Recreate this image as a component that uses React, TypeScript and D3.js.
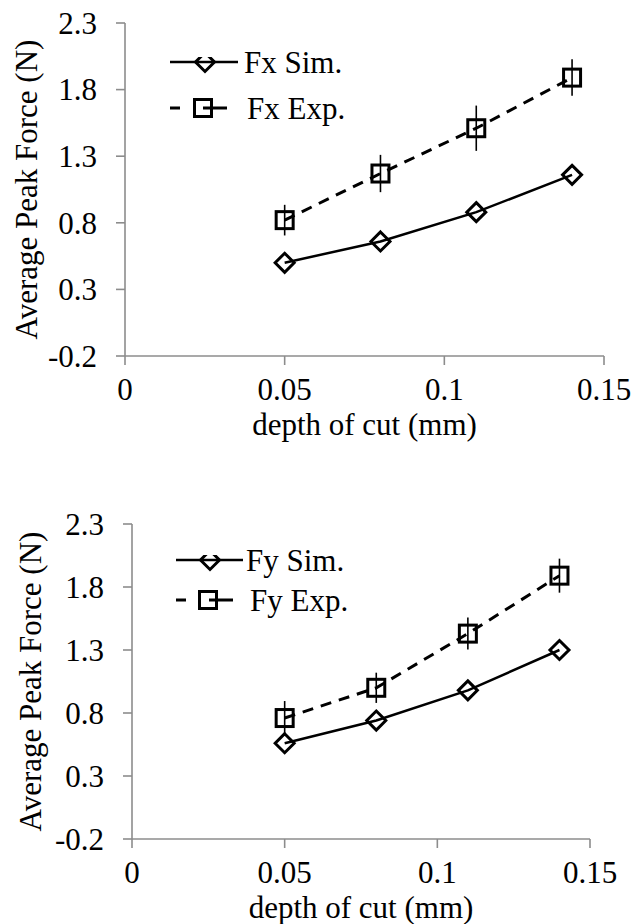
import React from 'react';
import * as d3 from 'd3';

const depths = [0.05, 0.08, 0.11, 0.14];
const fxSim = [0.5, 0.66, 0.88, 1.16];
const fxExp = [0.82, 1.17, 1.51, 1.89];
const fxErr = [0.115, 0.14, 0.17, 0.137];
const fySim = [0.56, 0.74, 0.98, 1.3];
const fyExp = [0.76, 1.0, 1.43, 1.89];
const fyErr = [0.135, 0.12, 0.127, 0.135];
const xTicks = [0, 0.05, 0.1, 0.15];
const xTickLabels = ['0', '0.05', '0.1', '0.15'];
const yTicks = [-0.2, 0.3, 0.8, 1.3, 1.8, 2.3];
const yTickLabels = ['-0.2', '0.3', '0.8', '1.3', '1.8', '2.3'];
const xTitle = 'depth of cut (mm)';
const yTitle = 'Average Peak Force (N)';
const simLabels = ['Fx Sim.', 'Fy Sim.'];
const expLabels = ['Fx Exp.', 'Fy Exp.'];

const FONT = "'Liberation Serif', 'Times New Roman', Times, serif";
const FS = 31;
const AXIS = '#8c8c8c';

type Layout = {
  x0: number; x1: number; yTop: number; yBot: number; yTitleX: number;
  lgX0: number; lgX1: number; lgSym: number; lgSimY: number; lgExpY: number; lgSimTX: number; lgExpTX: number;
};

const layouts: Layout[] = [
  { x0: 125, x1: 604, yTop: 23, yBot: 356, yTitleX: 37, lgX0: 170, lgX1: 238, lgSym: 205, lgSimY: 62, lgExpY: 108, lgSimTX: 244, lgExpTX: 247 },
  { x0: 132, x1: 590, yTop: 524, yBot: 839, yTitleX: 41, lgX0: 176, lgX1: 243, lgSym: 210, lgSimY: 560, lgExpY: 600, lgSimTX: 246, lgExpTX: 250 },
];

const panels = [
  { sim: fxSim, exp: fxExp, err: fxErr, simLabel: simLabels[0], expLabel: expLabels[0] },
  { sim: fySim, exp: fyExp, err: fyErr, simLabel: simLabels[1], expLabel: expLabels[1] },
];

const diamond = (cx: number, cy: number, r: number) =>
  `M${cx},${cy - r}L${cx + r},${cy}L${cx},${cy + r}L${cx - r},${cy}Z`;

function Panel({ idx }: { idx: number }) {
  const L = layouts[idx];
  const P = panels[idx];
  const x = d3.scaleLinear().domain([0, 0.15]).range([L.x0, L.x1]);
  const y = d3.scaleLinear().domain([-0.2, 2.3]).range([L.yBot, L.yTop]);
  const simData = depths.map((d, i) => [d, P.sim[i]] as [number, number]);
  const expData = depths.map((d, i) => [d, P.exp[i]] as [number, number]);
  const line = d3.line<[number, number]>().x(d => x(d[0])).y(d => y(d[1]));
  const half = 9.5;
  const sq = 8.5;
  const clipId = `lgclip${idx}`;
  return (
    <g fontFamily={FONT} fontSize={FS} fill="#000" style={{ fontFamily: FONT }}>
      <line x1={L.x0} x2={L.x0} y1={L.yTop} y2={L.yBot} stroke={AXIS} strokeWidth={1.6} />
      <line x1={L.x0} x2={L.x1} y1={L.yBot} y2={L.yBot} stroke={AXIS} strokeWidth={1.6} />
      {yTicks.map((t, i) => (
        <g key={'y' + i}>
          <line x1={L.x0 - 9} x2={L.x0} y1={y(t)} y2={y(t)} stroke={AXIS} strokeWidth={1.6} />
          <text x={L.x0 - 28} y={y(t)} dy="0.35em" textAnchor="end">{yTickLabels[i]}</text>
        </g>
      ))}
      {xTicks.map((t, i) => (
        <g key={'x' + i}>
          <line x1={x(t)} x2={x(t)} y1={L.yBot} y2={L.yBot + 9} stroke={AXIS} strokeWidth={1.6} />
          <text x={x(t)} y={L.yBot + 44} textAnchor="middle">{xTickLabels[i]}</text>
        </g>
      ))}
      <text x={(L.x0 + L.x1) / 2} y={L.yBot + 79} textAnchor="middle">{xTitle}</text>
      <text transform={`translate(${L.yTitleX},${(L.yTop + L.yBot) / 2}) rotate(-90)`} textAnchor="middle">{yTitle}</text>

      <path d={line(simData) || ''} fill="none" stroke="#000" strokeWidth={2.5} />
      <path d={line(expData) || ''} fill="none" stroke="#000" strokeWidth={3} strokeDasharray="11,8" />
      {expData.map((d, i) => (
        <line key={'e' + i} x1={x(d[0])} x2={x(d[0])} y1={y(d[1] + P.err[i])} y2={y(d[1] - P.err[i])} stroke="#000" strokeWidth={1.6} />
      ))}
      {simData.map((d, i) => (
        <path key={'d' + i} d={diamond(x(d[0]), y(d[1]), half)} fill="none" stroke="#000" strokeWidth={3} />
      ))}
      {expData.map((d, i) => (
        <rect key={'s' + i} x={x(d[0]) - sq} y={y(d[1]) - sq} width={2 * sq} height={2 * sq} fill="none" stroke="#000" strokeWidth={3} />
      ))}

      <defs>
        <clipPath id={clipId}>
          <rect x={L.lgX0 - 5} y={L.lgSimY - 5} width={100} height={100} />
        </clipPath>
      </defs>
      <line x1={L.lgX0} x2={L.lgX1} y1={L.lgSimY} y2={L.lgSimY} stroke="#000" strokeWidth={2.5} />
      <path d={diamond(L.lgSym, L.lgSimY, half)} fill="none" stroke="#000" strokeWidth={3} clipPath={`url(#${clipId})`} />
      <text x={L.lgSimTX} y={L.lgSimY + 11}>{P.simLabel}</text>
      <line x1={L.lgX0} x2={L.lgX0 + 57} y1={L.lgExpY} y2={L.lgExpY} stroke="#000" strokeWidth={3} strokeDasharray="10,23,24" />
      <rect x={L.lgSym - 2 - sq} y={L.lgExpY - sq} width={2 * sq} height={2 * sq} fill="none" stroke="#000" strokeWidth={3} />
      <text x={L.lgExpTX} y={L.lgExpY + 11}>{P.expLabel}</text>
    </g>
  );
}

export default function App() {
  return (
    <svg width={633} height={924} style={{ position: 'absolute', left: 0, top: 0, background: '#fff' }}>
      <rect width={633} height={924} fill="#fff" />
      <Panel idx={0} />
      <Panel idx={1} />
    </svg>
  );
}
